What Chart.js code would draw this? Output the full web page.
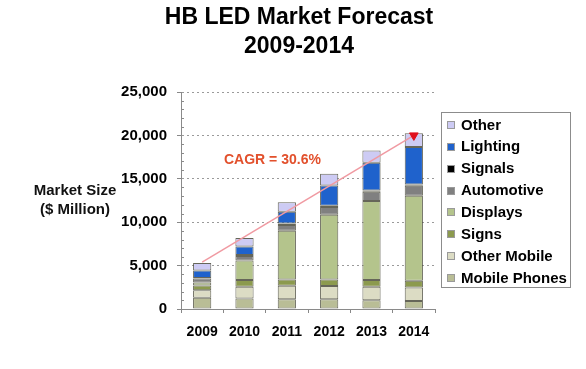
<!DOCTYPE html>
<html>
<head>
<meta charset="utf-8">
<script src="https://cdn.jsdelivr.net/npm/chart.js@4.4.1/dist/chart.umd.min.js"></script>
<style>
html,body{margin:0;padding:0;background:#fff;}
#wrap{width:586px;height:369px;position:relative;}
</style>
</head>
<body>
<div id="wrap"><canvas id="c" width="586" height="369"></canvas></div>
<script>
const years = ['2009','2010','2011','2012','2013','2014'];
const mobilePhones = [1300,1200,1120,1120,1020,920];
const otherMobile  = [850,1350,1550,1520,1550,1560];
const signs        = [550,780,740,770,770,780];
const displays     = [350,2250,5600,7450,9100,9800];
const automotive   = [450,540,680,880,1070,1150];
const signals      = [80,100,150,150,150,120];
const lighting     = [850,970,1370,2350,3180,4330];
const other        = [870,1000,1100,1350,1420,1600];
const cagrLine     = [5400,null,null,null,null,20000];
const cagrLabel    = 'CAGR = 30.6%';
const titleLines   = ['HB LED Market Forecast','2009-2014'];
const yTitleLines  = ['Market Size','($ Million)'];
const yMax = 25000, yStep = 5000, yMinorStep = 1000;

const FONT = '"Liberation Sans", Arial, Helvetica, sans-serif';

const series = [
  {label:'Mobile Phones', data:mobilePhones, color:'#b9bd96'},
  {label:'Other Mobile',  data:otherMobile,  color:'#dcdcc4'},
  {label:'Signs',         data:signs,        color:'#8c9a4e'},
  {label:'Displays',      data:displays,     color:'#b4c48c'},
  {label:'Automotive',    data:automotive,   color:'#808080'},
  {label:'Signals',       data:signals,      color:'#000000'},
  {label:'Lighting',      data:lighting,     color:'#1f62cc'},
  {label:'Other',         data:other,        color:'#cdcbf4'}
];

const datasets = series.map(s => ({
  type:'bar', label:s.label, data:s.data, backgroundColor:s.color,
  borderColor:'rgba(75,75,60,0.85)', borderWidth:1, borderSkipped:false,
  stack:'leds', categoryPercentage:1, barPercentage:0.43
}));
datasets.push({
  type:'line', label:'CAGR', data:cagrLine, spanGaps:true, stack:'cagr', order:-1,
  borderColor:'#f09aa2', borderWidth:1.5, pointStyle:'triangle', pointRotation:180,
  pointRadius:[0,0,0,0,0,5], pointBackgroundColor:'#e0101e', pointBorderColor:'#e0101e',
  pointBorderWidth:1
});

const decor = {
  id:'decor',
  beforeDatasetsDraw(chart){
    const ctx = chart.ctx, y = chart.scales.y, ca = chart.chartArea;
    ctx.save();
    ctx.strokeStyle = '#8a8a8a'; ctx.lineWidth = 1;
    for (let v = yMinorStep; v < yMax; v += yMinorStep) {
      if (v % yStep === 0) continue;
      const py = Math.round(y.getPixelForValue(v)) + 0.5;
      ctx.beginPath(); ctx.moveTo(ca.left, py); ctx.lineTo(ca.left + 3, py); ctx.stroke();
    }
    ctx.restore();
  },
  afterDraw(chart){
    const ctx = chart.ctx, x = chart.scales.x, y = chart.scales.y;
    ctx.save();
    ctx.fillStyle = '#000'; ctx.textAlign = 'center'; ctx.textBaseline = 'middle';
    ctx.font = 'bold 23px ' + FONT;
    ctx.fillText(titleLines[0], 299, 18);
    ctx.fillText(titleLines[1], 299, 47);
    ctx.font = 'bold 15px ' + FONT; ctx.fillStyle = '#111';
    ctx.fillText(yTitleLines[0], 75, 191);
    ctx.fillText(yTitleLines[1], 75, 210);
    const x0 = x.getPixelForValue(1), x1 = x.getPixelForValue(2);
    ctx.font = 'bold 14px ' + FONT; ctx.fillStyle = '#e2502c';
    ctx.fillText(cagrLabel, x0 + 0.66*(x1-x0), y.getPixelForValue(17150));
    const items = chart.data.datasets.filter(d => d.type === 'bar').slice().reverse();
    ctx.strokeStyle = '#8c8c8c'; ctx.lineWidth = 1;
    ctx.strokeRect(441.5, 112.5, 129, 175);
    ctx.textAlign = 'left'; ctx.font = 'bold 15px ' + FONT;
    items.forEach((d, i) => {
      const cy = 125 + i * 21.85;
      ctx.fillStyle = d.backgroundColor;
      ctx.fillRect(447, Math.round(cy - 4), 8, 8);
      ctx.strokeStyle = '#9a9a9a';
      ctx.strokeRect(447.5, Math.round(cy - 4) + 0.5, 7, 7);
      ctx.fillStyle = '#000';
      ctx.fillText(d.label, 461, cy + 0.5);
    });
    ctx.restore();
  }
};

new Chart(document.getElementById('c'), {
  data:{labels:years, datasets},
  options:{
    responsive:false, animation:false, devicePixelRatio:1,
    layout:{padding:{top:92, right:151, bottom:0, left:0}},
    plugins:{legend:{display:false}, tooltip:{enabled:false}, title:{display:false}},
    scales:{
      x:{
        stacked:true, offset:true,
        grid:{display:true, drawOnChartArea:false, offset:true, tickLength:4, tickColor:'#888', color:'#888'},
        border:{display:true, color:'#8a8a8a', width:1},
        ticks:{color:'#000', font:{family:FONT, size:14, weight:'bold'}, padding:11, maxRotation:0},
        afterFit(s){ s.height = 60; }
      },
      y:{
        stacked:true, min:0, max:yMax,
        grid:{display:true, drawOnChartArea:true, color:'#9a9a9a', lineWidth:1, tickLength:4, tickColor:'#888'},
        border:{display:true, color:'#8a8a8a', width:1, dash:[2,3]},
        ticks:{stepSize:yStep, color:'#000', font:{family:FONT, size:15, weight:'bold'}, padding:10,
               callback:v => v.toLocaleString('en-US')},
        afterFit(s){ s.width = 181; }
      }
    }
  },
  plugins:[decor]
});
</script>
</body>
</html>
